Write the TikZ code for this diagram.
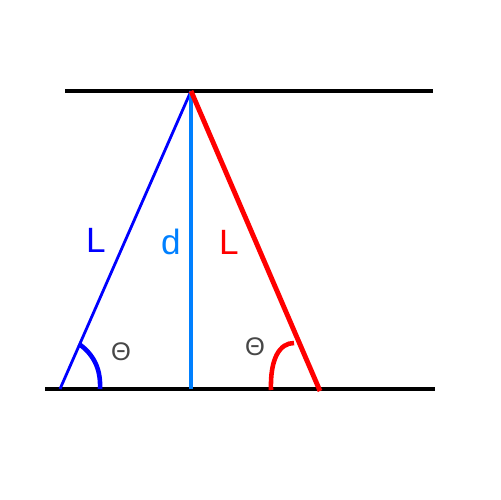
\documentclass[tikz,border=0pt]{standalone}
\usepackage{fontspec}
\setmainfont{Liberation Sans}
\usepackage{xcolor}
\usetikzlibrary{calc}
\definecolor{pureblue}{HTML}{0000FF}
\definecolor{skyblue}{HTML}{0080FF}
\definecolor{purered}{HTML}{FF0000}
\definecolor{thetagray}{HTML}{474747}
\tikzset{
  wall/.style={line width=2.3pt,black},
  lbl/.style={font=\fontsize{20}{24}\selectfont,inner sep=0pt},
  ang/.style={font=\fontsize{14.5}{17}\selectfont,text=thetagray,inner sep=0pt},
}

\begin{document}
\begin{tikzpicture}[x=0.02cm,y=-0.02cm]
\useasboundingbox (0,0) rectangle (500,500);

% plates
\coordinate (tl) at (65,91);
\coordinate (tr) at (433,91);
\coordinate (bl) at (45,389);
\coordinate (br) at (435,389);
\draw[wall] (tl) -- (tr);
\draw[wall] (bl) -- (br);

% apex and feet
\coordinate (top) at (191,91);
\coordinate (foot1) at (60,389);
\coordinate (foot2) at (320,391);
\coordinate (mid) at (191,389);

\draw[pureblue,line width=1.6pt] (foot1) -- (top);
\draw[skyblue,line width=2.2pt] (top) -- (mid);
\draw[purered,line width=2.8pt] (top) -- (foot2);

% angle arcs
\coordinate (a1) at (79,344);
\coordinate (a1e) at (100,389);
\draw[pureblue,line width=2.6pt] (a1) .. controls (93,354) and (101,368) .. (a1e);
\coordinate (a2) at (294,343);
\coordinate (a2e) at (271,390);
\draw[purered,line width=2.6pt] (a2) .. controls (280,343) and (270,358) .. (a2e);

% labels
\node[lbl,text=pureblue] (lblue) at (96,240) {L};
\node[lbl,text=skyblue] (dlbl) at (171,242) {d};
\node[lbl,text=purered] (lred) at (229,242) {L};
\node[ang] (th1) at (121,352) {Θ};
\node[ang] (th2) at (255,347) {Θ};
\end{tikzpicture}
\end{document}
